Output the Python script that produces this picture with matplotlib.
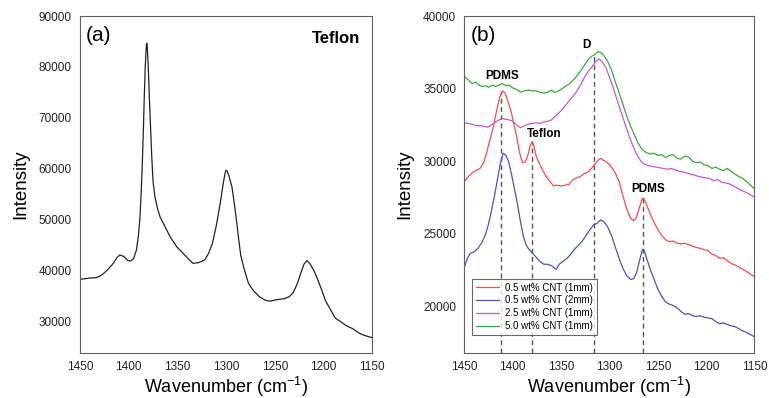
"""Raman spectra — (a) Teflon reference, (b) CNT/PDMS composites with peak markers."""

import matplotlib
matplotlib.use("Agg")
import matplotlib.pyplot as plt

plt.rcParams["font.family"] = ["Liberation Sans", "DejaVu Sans"]
plt.rcParams["mathtext.default"] = "regular"

# ---- (a) Teflon ----
teflon_wn = [1450, 1440, 1433, 1428, 1422, 1416, 1412, 1409, 1405, 1401, 1398, 1395, 1392,
             1390, 1388.4, 1387, 1386, 1385, 1384, 1383, 1382, 1381.5, 1381, 1380, 1378.8,
             1377.5, 1376.3, 1375, 1373, 1370.5, 1367.8, 1362, 1357.5, 1350.6, 1344, 1339,
             1334, 1328, 1322, 1318, 1314, 1310, 1306, 1303, 1301, 1300, 1299, 1297, 1294,
             1291.5, 1289, 1287, 1285, 1282, 1277, 1272, 1266, 1260, 1255, 1248, 1240, 1235,
             1231, 1227, 1223, 1220, 1217, 1214, 1210, 1206, 1202, 1198, 1193, 1188, 1182,
             1176, 1170, 1165, 1160, 1155, 1150]
teflon_int = [38200, 38450, 38550, 39000, 40000, 41300, 42500, 43000, 42700, 41900, 41800,
              42300, 44000, 46800, 50500, 56000, 61000, 67000, 74000, 80000, 83800, 84700,
              84200, 80500, 74100, 68000, 62300, 57500, 54400, 52200, 50500, 48300, 46600,
              44600, 43300, 42300, 41350, 41500, 42000, 43300, 45300, 48800, 53200, 57000,
              59100, 59700, 59500, 58500, 56400, 53000, 49300, 46000, 43000, 40600, 37400,
              36000, 34800, 34100, 33900, 34200, 34400, 34800, 35600, 37300, 39600, 41200,
              41900, 41300, 40000, 38200, 36200, 34000, 32300, 30600, 29800, 29000, 28500,
              27800, 27300, 27000, 26700]

# ---- (b) composites ----
green_wn = [1450, 1446, 1442, 1438, 1435, 1432, 1428, 1425, 1421, 1418, 1414, 1411, 1407,
            1404, 1400, 1396, 1392, 1388, 1384, 1380, 1376, 1372, 1368, 1364, 1360, 1357,
            1354, 1350, 1346, 1342, 1338, 1334, 1330, 1326, 1322, 1318, 1315, 1312, 1309,
            1306, 1302, 1298, 1294, 1290, 1286, 1282, 1278, 1274, 1270, 1266, 1262, 1258,
            1254, 1250, 1246, 1242, 1238, 1234, 1230, 1226, 1222, 1218, 1214, 1210, 1206,
            1202, 1198, 1194, 1190, 1186, 1182, 1178, 1174, 1170, 1166, 1162, 1158, 1154, 1150]
green_int = [35850, 35600, 35350, 35450, 35250, 35150, 35200, 35100, 35250, 35150, 35250,
             35350, 35200, 35250, 35050, 34950, 34750, 34850, 34900, 34850, 34850, 34750,
             34700, 34750, 34900, 34750, 34800, 34950, 35150, 35300, 35550, 35850, 36200,
             36600, 37000, 37250, 37350, 37550, 37500, 37300, 36900, 36300, 35500, 34700,
             33900, 33100, 32400, 31800, 31200, 30800, 30600, 30500, 30550, 30400, 30450,
             30250, 30400, 30450, 30200, 30150, 30350, 30300, 30000, 29900, 29950, 29750,
             29700, 29500, 29600, 29450, 29350, 29500, 29300, 29100, 28950, 28800, 28600,
             28350, 28100]

magenta_wn = [1450, 1446, 1442, 1438, 1434, 1430, 1426, 1422, 1418, 1414, 1411, 1408, 1404,
              1400, 1396, 1392, 1388, 1384, 1380, 1376, 1372, 1368, 1364, 1360, 1357, 1354,
              1350, 1346, 1342, 1338, 1334, 1330, 1326, 1322, 1318, 1314, 1311, 1308, 1304,
              1300, 1296, 1292, 1288, 1284, 1280, 1276, 1272, 1268, 1264, 1260, 1256, 1252,
              1248, 1244, 1240, 1236, 1232, 1228, 1224, 1220, 1216, 1212, 1208, 1204, 1200,
              1196, 1192, 1188, 1184, 1180, 1176, 1172, 1168, 1164, 1160, 1156, 1152, 1150]
magenta_int = [32650, 32600, 32550, 32450, 32450, 32400, 32350, 32500, 32700, 32850, 32950,
               32900, 32850, 32750, 32500, 32300, 32450, 32550, 32600, 32650, 32600, 32700,
               32750, 32850, 33050, 33200, 33500, 33800, 34150, 34450, 34800, 35250, 35750,
               36200, 36500, 36900, 37050, 36900, 36500, 35800, 35050, 34200, 33400, 32600,
               31800, 31100, 30500, 30050, 29800, 29700, 29650, 29600, 29550, 29500, 29450,
               29500, 29400, 29300, 29250, 29200, 29100, 29050, 28950, 28900, 28850, 28800,
               28650, 28750, 28550, 28500, 28450, 28300, 28150, 28000, 27900, 27750, 27600, 27550]

red_wn = [1450, 1446, 1442, 1438, 1434, 1430, 1427, 1424, 1420, 1417, 1414, 1411, 1408, 1405,
          1402, 1399, 1396, 1393, 1390, 1387, 1384, 1382, 1380, 1378, 1376, 1373, 1370, 1366,
          1362, 1358, 1354, 1350, 1346, 1342, 1338, 1334, 1330, 1326, 1322, 1318, 1315, 1312,
          1309, 1306, 1302, 1298, 1294, 1290, 1286, 1282, 1278, 1275, 1272, 1269, 1266, 1264,
          1261, 1258, 1254, 1250, 1246, 1242, 1238, 1234, 1230, 1226, 1222, 1218, 1214, 1210,
          1206, 1202, 1198, 1194, 1190, 1186, 1182, 1178, 1174, 1170, 1166, 1162, 1158, 1154, 1150]
red_int = [28600, 28950, 29200, 29350, 29500, 29900, 30600, 31400, 32400, 33400, 34300, 34850,
           34700, 34100, 33500, 32600, 31700, 30600, 29900, 29950, 30500, 31100, 31350, 31000,
           30400, 29900, 29500, 29000, 28650, 28300, 28350, 28300, 28350, 28400, 28700, 28850,
           28950, 29150, 29250, 29550, 29800, 30050, 30200, 30050, 29900, 29600, 29200, 28600,
           27600, 26700, 26050, 25900, 26150, 26800, 27450, 27400, 26900, 26400, 25800, 25300,
           24900, 24600, 24450, 24500, 24350, 24300, 24350, 24250, 24150, 24050, 24000, 23900,
           23850, 23600, 23500, 23300, 23350, 23150, 22950, 22850, 22700, 22550, 22400, 22200, 22050]

blue_wn = [1450, 1447, 1444, 1440, 1436, 1432, 1428, 1425, 1422, 1419, 1416, 1413, 1410, 1407,
           1404, 1401, 1398, 1395, 1392, 1389, 1386, 1383, 1380, 1376, 1372, 1368, 1364, 1360,
           1357, 1355, 1352, 1348, 1344, 1340, 1336, 1332, 1328, 1324, 1320, 1316, 1313, 1309,
           1306, 1302, 1298, 1294, 1290, 1286, 1282, 1278, 1275, 1272, 1269, 1266, 1264, 1261,
           1258, 1254, 1250, 1246, 1242, 1238, 1234, 1230, 1226, 1222, 1218, 1214, 1210, 1206,
           1202, 1198, 1194, 1190, 1186, 1182, 1178, 1174, 1170, 1166, 1162, 1158, 1154, 1150]
blue_int = [22750, 23300, 23650, 23750, 24000, 24400, 25000, 25700, 26600, 27600, 28700, 29800,
            30550, 30400, 29900, 29000, 28000, 27000, 25800, 24800, 24200, 23900, 23700, 23400,
            23100, 22900, 22900, 22800, 22650, 22550, 22900, 23100, 23300, 23600, 23950, 24200,
            24500, 24900, 25300, 25650, 25700, 25950, 25850, 25500, 24900, 24100, 23300, 22600,
            22100, 21850, 21900, 22300, 23100, 23900, 23850, 23200, 22600, 21900, 21200, 20700,
            20300, 20150, 20050, 19900, 19650, 19450, 19500, 19350, 19300, 19350, 19250, 19200,
            19150, 18950, 18800, 18850, 18750, 18650, 18600, 18450, 18300, 18200, 18050, 17900]

series_labels = ["0.5 wt% CNT (1mm)", "0.5 wt% CNT (2mm)", "2.5 wt% CNT (1mm)", "5.0 wt% CNT (1mm)"]

# peak markers: position, top of dashed line, label, label height
marker_wn = [1412, 1380, 1316, 1265]
marker_top = [34870, 31360, 37300, 27470]
peak_labels = ["PDMS", "Teflon", "D", "PDMS"]
peak_label_wn = [1411, 1368, 1324, 1260]
peak_label_y = [35880, 31890, 38000, 28110]

SPINE = "#606060"


def style_axes(ax, ylim, yticks):
    ax.set_xlim(1450, 1150)
    ax.set_ylim(*ylim)
    ax.set_xticks([1450, 1400, 1350, 1300, 1250, 1200, 1150])
    ax.set_yticks(yticks)
    ax.tick_params(length=0, labelsize=8.5, pad=6, colors="#222222")
    for s in ax.spines.values():
        s.set_color(SPINE)
        s.set_linewidth(0.8)
    ax.set_xlabel("Wavenumber (cm$^{-1}$)", fontsize=13, labelpad=1)
    ax.set_ylabel("Intensity", fontsize=13.5, labelpad=7)


fig = plt.figure(figsize=(7.69, 3.98), dpi=100)
ax_a = fig.add_axes([0.104, 0.1130, 0.380, 0.8465])
ax_b = fig.add_axes([0.604, 0.1130, 0.377, 0.8465])

ax_a.plot(teflon_wn, teflon_int, color="#222222", lw=0.9)
style_axes(ax_a, (23700, 90000), range(30000, 90001, 10000))
ax_a.text(0.02, 0.97, "(a)", transform=ax_a.transAxes, fontsize=15, va="top", ha="left")
ax_a.text(0.96, 0.955, "Teflon", transform=ax_a.transAxes, fontsize=12, fontweight="bold",
          va="top", ha="right")

colors = ["#ff4a4a", "#5050c0", "#cc55cc", "#3aaa3a"]
for wn, inten, c, lab in zip([red_wn, blue_wn, magenta_wn, green_wn],
                             [red_int, blue_int, magenta_int, green_int], colors, series_labels):
    ax_b.plot(wn, inten, color=c, lw=0.9, label=lab)

ymin_b = 16780
for x, top in zip(marker_wn, marker_top):
    ax_b.plot([x, x], [ymin_b, top], ls=(0, (3.5, 2.5)), color="#555555", lw=1.0, zorder=0)
for x, y, t in zip(peak_label_wn, peak_label_y, peak_labels):
    ax_b.text(x, y, t, fontsize=8.5, fontweight="bold", ha="center", va="center")

style_axes(ax_b, (ymin_b, 40000), range(20000, 40001, 5000))
ax_b.text(0.02, 0.97, "(b)", transform=ax_b.transAxes, fontsize=15, va="top", ha="left")
leg = ax_b.legend(loc="lower left", bbox_to_anchor=(0.027, 0.053), borderaxespad=0,
                  fontsize=7, frameon=True, fancybox=False, handlelength=2.3,
                  labelspacing=0.3, borderpad=0.4, handletextpad=0.7)
leg.get_frame().set_edgecolor("#444444")
leg.get_frame().set_linewidth(0.8)

fig.savefig("out.png", dpi=100)
